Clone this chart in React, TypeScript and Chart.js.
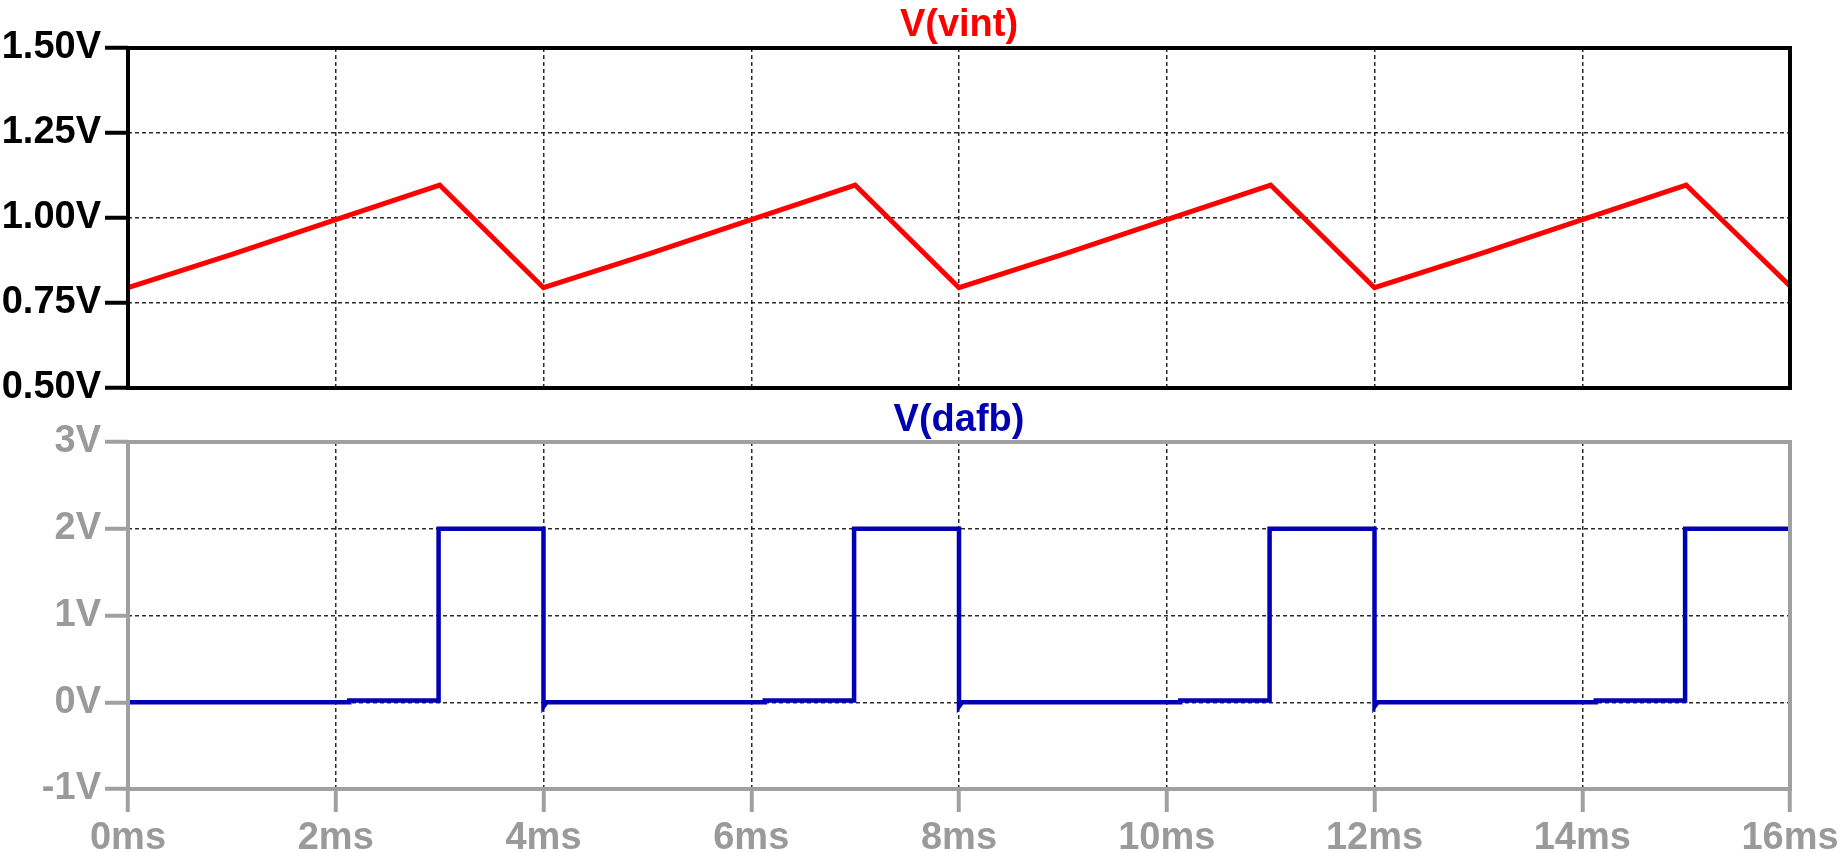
import React, { useEffect, useRef } from "react";
import { Chart, registerables } from "chart.js";

Chart.register(...registerables);

// ---- Data ----
const timeTicks = [0, 2, 4, 6, 8, 10, 12, 14, 16];
const timeTickLabels = ["0ms", "2ms", "4ms", "6ms", "8ms", "10ms", "12ms", "14ms", "16ms"];

const vintTicks = [0.5, 0.75, 1.0, 1.25, 1.5];
const vintTickLabels = ["0.50V", "0.75V", "1.00V", "1.25V", "1.50V"];

const dafbTicks = [-1, 0, 1, 2, 3];
const dafbTickLabels = ["-1V", "0V", "1V", "2V", "3V"];

const vintTime = [0, 1, 2, 3, 4, 5, 6, 7, 8, 9, 10, 11, 12, 13, 14, 15, 16];
const vintValues = [0.795, 0.893, 0.995, 1.097, 0.795, 0.893, 0.995, 1.097, 0.795, 0.893, 0.995, 1.097, 0.795, 0.893, 0.995, 1.097, 0.8];

const dafbTime = [0, 2.13, 2.13, 2.99, 2.99, 4.0, 4.0, 4.03, 6.13, 6.13, 6.99, 6.99, 8.0, 8.0, 8.03, 10.13, 10.13, 10.99, 10.99, 12.0, 12.0, 12.03, 14.13, 14.13, 14.99, 14.99, 16.0];
const dafbValues = [0, 0, 0.02, 0.02, 2.0, 2.0, -0.05, 0, 0, 0.02, 0.02, 2.0, 2.0, -0.05, 0, 0, 0.02, 0.02, 2.0, 2.0, -0.05, 0, 0, 0.02, 0.02, 2.0, 2.0];

const FONT_FAMILY = "'Liberation Sans', Arial, sans-serif";
const FONT_SIZE = 38;

const framePlugin = {
  id: "frame",
  afterDraw(chart: any, _args: any, opts: any) {
    const { ctx, chartArea: a } = chart;
    ctx.save();
    ctx.strokeStyle = opts.color;
    ctx.lineWidth = opts.width;
    ctx.strokeRect(a.left, a.top, a.right - a.left, a.bottom - a.top);
    ctx.fillStyle = opts.titleColor;
    ctx.font = `bold ${opts.titleSize}px ${FONT_FAMILY}`;
    ctx.textAlign = "center";
    ctx.textBaseline = "alphabetic";
    ctx.fillText(opts.title, (a.left + a.right) / 2, opts.titleBaseline);
    ctx.restore();
  },
};

function makeConfig(opts: {
  time: number[];
  values: number[];
  color: string;
  lineWidth: number;
  yTicks: number[];
  yLabels: string[];
  yMin: number;
  yMax: number;
  axisColor: string;
  labelColor: string;
  title: string;
  titleColor: string;
  titleBaseline: number;
  padTop: number;
  xHeight: number;
  showX: boolean;
}): any {
  const gridCommon = {
    color: "rgba(20,20,20,0.9)",
    lineWidth: 1.5,
    tickBorderDash: [],
  };
  const borderCommon = { display: false, dash: [4, 3] };
  return {
    type: "line",
    data: {
      datasets: [
        {
          data: opts.time.map((t, i) => ({ x: t, y: opts.values[i] })),
          borderColor: opts.color,
          borderWidth: opts.lineWidth,
          pointRadius: 0,
          tension: 0,
          fill: false,
        },
      ],
    },
    plugins: [framePlugin],
    options: {
      animation: false,
      responsive: false,
      devicePixelRatio: 1,
      layout: { padding: { top: opts.padTop, right: 52, left: 0, bottom: 0 } },
      plugins: {
        legend: { display: false },
        tooltip: { enabled: false },
        title: { display: false },
        frame: {
          color: opts.axisColor,
          width: 4,
          title: opts.title,
          titleColor: opts.titleColor,
          titleSize: FONT_SIZE,
          titleBaseline: opts.titleBaseline,
        },
      },
      scales: {
        x: {
          type: "linear",
          min: 0,
          max: 16,
          z: 1,
          afterBuildTicks: (s: any) => {
            s.ticks = timeTicks.map((v) => ({ value: v }));
          },
          afterFit: (s: any) => {
            s.height = opts.xHeight;
            s.paddingLeft = 0;
            s.paddingRight = 0;
            s.paddingTop = 0;
            s.paddingBottom = 0;
          },
          ticks: {
            display: opts.showX,
            autoSkip: false,
            maxRotation: 0,
            color: opts.labelColor,
            padding: 4,
            font: { family: FONT_FAMILY, size: FONT_SIZE, weight: "bold" },
            callback: (v: number) => timeTickLabels[timeTicks.indexOf(v)],
          },
          grid: {
            ...gridCommon,
            drawTicks: opts.showX,
            tickLength: 23,
            tickWidth: 4,
            tickColor: opts.axisColor,
          },
          border: borderCommon,
        },
        y: {
          type: "linear",
          min: opts.yMin,
          max: opts.yMax,
          z: 1,
          afterBuildTicks: (s: any) => {
            s.ticks = opts.yTicks.map((v) => ({ value: v }));
          },
          afterFit: (s: any) => {
            s.width = 128;
            s.paddingLeft = 0;
            s.paddingRight = 0;
            s.paddingTop = 0;
            s.paddingBottom = 0;
          },
          ticks: {
            autoSkip: false,
            color: opts.labelColor,
            padding: 4,
            font: { family: FONT_FAMILY, size: FONT_SIZE, weight: "bold" },
            callback: (v: number) => opts.yLabels[opts.yTicks.indexOf(v)],
          },
          grid: {
            ...gridCommon,
            tickLength: 23,
            tickWidth: 4,
            tickColor: opts.axisColor,
          },
          border: borderCommon,
        },
      },
    },
  };
}

export default function App() {
  const topRef = useRef<HTMLCanvasElement>(null);
  const botRef = useRef<HTMLCanvasElement>(null);

  useEffect(() => {
    const top = new Chart(
      topRef.current as HTMLCanvasElement,
      makeConfig({
        time: vintTime,
        values: vintValues,
        color: "#ff0000",
        lineWidth: 5,
        yTicks: vintTicks,
        yLabels: vintTickLabels,
        yMin: 0.5,
        yMax: 1.5,
        axisColor: "#000000",
        labelColor: "#000000",
        title: "V(vint)",
        titleColor: "#ff0000",
        titleBaseline: 36,
        padTop: 48,
        xHeight: 12,
        showX: false,
      })
    );
    const bot = new Chart(
      botRef.current as HTMLCanvasElement,
      makeConfig({
        time: dafbTime,
        values: dafbValues,
        color: "#0000b4",
        lineWidth: 4.5,
        yTicks: dafbTicks,
        yLabels: dafbTickLabels,
        yMin: -1,
        yMax: 3,
        axisColor: "#a0a0a0",
        labelColor: "#9a9a9a",
        title: "V(dafb)",
        titleColor: "#0000b0",
        titleBaseline: 31,
        padTop: 42,
        xHeight: 63,
        showX: true,
      })
    );
    return () => {
      top.destroy();
      bot.destroy();
    };
  }, []);

  return (
    <div
      style={{
        position: "absolute",
        left: 0,
        top: 0,
        width: 1842,
        height: 852,
        background: "#ffffff",
        overflow: "hidden",
      }}
    >
      <canvas ref={topRef} width={1842} height={400} style={{ display: "block", width: 1842, height: 400 }} />
      <canvas ref={botRef} width={1842} height={452} style={{ display: "block", width: 1842, height: 452 }} />
    </div>
  );
}
